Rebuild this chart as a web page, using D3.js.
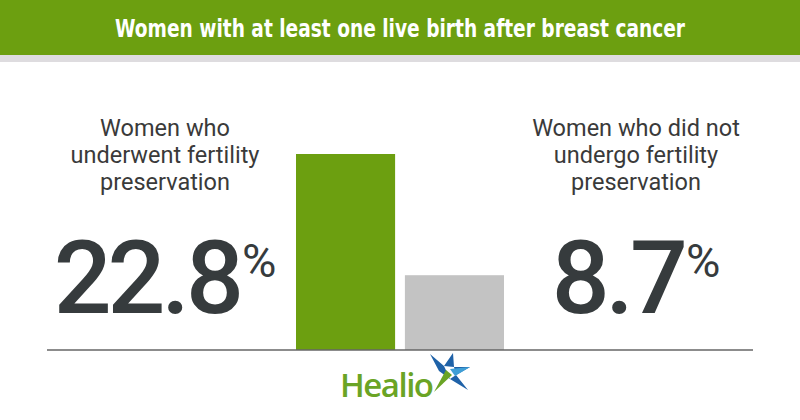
<!DOCTYPE html>
<html>
<head>
<meta charset="utf-8">
<script src="https://cdn.jsdelivr.net/npm/d3@7"></script>
<style>
  body { margin: 0; background: #fff; }
  svg { display: block; }
</style>
</head>
<body>
<div id="chart"></div>
<script>
// data
var title = "Women with at least one live birth after breast cancer";
var groups = ["preserved", "notPreserved"];
var values = [22.8, 8.7];
var barColors = ["#6c9f10", "#c3c3c3"];
var labelLines = [
    ["Women who", "underwent fertility", "preservation"],
    ["Women who did not", "undergo fertility", "preservation"]
];
var labelCenters = [165, 636];

const width = 800, height = 420;
const baseY = 350;

const svg = d3.select("#chart")
    .append("svg")
    .attr("width", width)
    .attr("height", height);

// header band
svg.append("rect")
    .attr("x", 0).attr("y", 0)
    .attr("width", width).attr("height", 55)
    .attr("fill", "#6c9f10");
svg.append("rect")
    .attr("x", 0).attr("y", 55)
    .attr("width", width).attr("height", 7)
    .attr("fill", "#dedcdf");

svg.append("text")
    .attr("x", width / 2)
    .attr("y", 37)
    .attr("text-anchor", "middle")
    .attr("textLength", 570)
    .attr("lengthAdjust", "spacingAndGlyphs")
    .style("font-family", "'Liberation Sans Narrow', 'DejaVu Sans Condensed', sans-serif")
    .style("font-weight", "bold")
    .style("font-size", "24px")
    .style("fill", "#fff")
    .text(title);

// bars
const x = d3.scaleBand()
    .domain(groups)
    .range([296, 504])
    .paddingInner(0.09);

const y = d3.scaleLinear()
    .domain([0, 22.8])
    .range([baseY, 154]);

svg.append("g")
    .selectAll("rect")
    .data(values)
    .join("rect")
    .attr("x", function (d, i) { return x(groups[i]); })
    .attr("y", function (d) { return y(d); })
    .attr("width", x.bandwidth())
    .attr("height", function (d) { return baseY - y(d); })
    .attr("fill", function (d, i) { return barColors[i]; });

// baseline
svg.append("line")
    .attr("x1", 47).attr("x2", 753)
    .attr("y1", baseY).attr("y2", baseY)
    .attr("stroke", "#666")
    .attr("stroke-width", 1.5);

// side labels
labelLines.forEach(function (lines, i) {
    const t = svg.append("text")
        .attr("text-anchor", "middle")
        .style("font-family", "Roboto, sans-serif")
        .style("font-size", "23.5px")
        .style("fill", "#3a3a3a");
    lines.forEach(function (line, j) {
        t.append("tspan")
            .attr("x", labelCenters[i])
            .attr("y", 136 + j * 27)
            .text(line);
    });

    // big number with superscript %
    const g = svg.append("g");
    const num = g.append("text")
        .attr("x", 0)
        .attr("y", 313)
        .style("font-family", "Roboto, sans-serif")
        .style("font-weight", "500")
        .style("font-size", "102px")
        .style("letter-spacing", "-4px")
        .style("fill", "#363b3d")
        .text(values[i]);
    const w = num.node().getComputedTextLength();
    const pct = g.append("text")
        .attr("x", w + 2)
        .attr("y", 277)
        .style("font-family", "Roboto, sans-serif")
        .style("font-size", "47px")
        .style("fill", "#363b3d")
        .text("%");
    const total = w + 2 + pct.node().getComputedTextLength();
    g.attr("transform", "translate(" + (labelCenters[i] - total / 2) + ",0)");
});

// Healio logo
svg.append("text")
    .attr("x", 340)
    .attr("y", 397)
    .style("font-family", "'Open Sans', sans-serif")
    .style("font-weight", "600")
    .style("font-size", "33px")
    .style("letter-spacing", "-1.5px")
    .style("fill", "#6aa425")
    .text("Healio");

const star = svg.append("g").attr("transform", "translate(447,373)");
star.append("path")
    .attr("d", "M-17,-19 L-3,-7 L6,-20 L7,-6 L23,-6 L9,2 L21,17 L3,6 L-8,-2 Z")
    .attr("fill", "#1f62a8");
star.append("path")
    .attr("d", "M-3,-7 L7,-6 L9,2 L3,6 Z")
    .attr("fill", "#ffffff");
star.append("path")
    .attr("d", "M-1,-3 L5,2 L-13,19 Z")
    .attr("fill", "#6aa425");
star.append("path")
    .attr("d", "M3,-4 L23,-6 L8,3 Z")
    .attr("fill", "#3f9fd6");
</script>
</body>
</html>
